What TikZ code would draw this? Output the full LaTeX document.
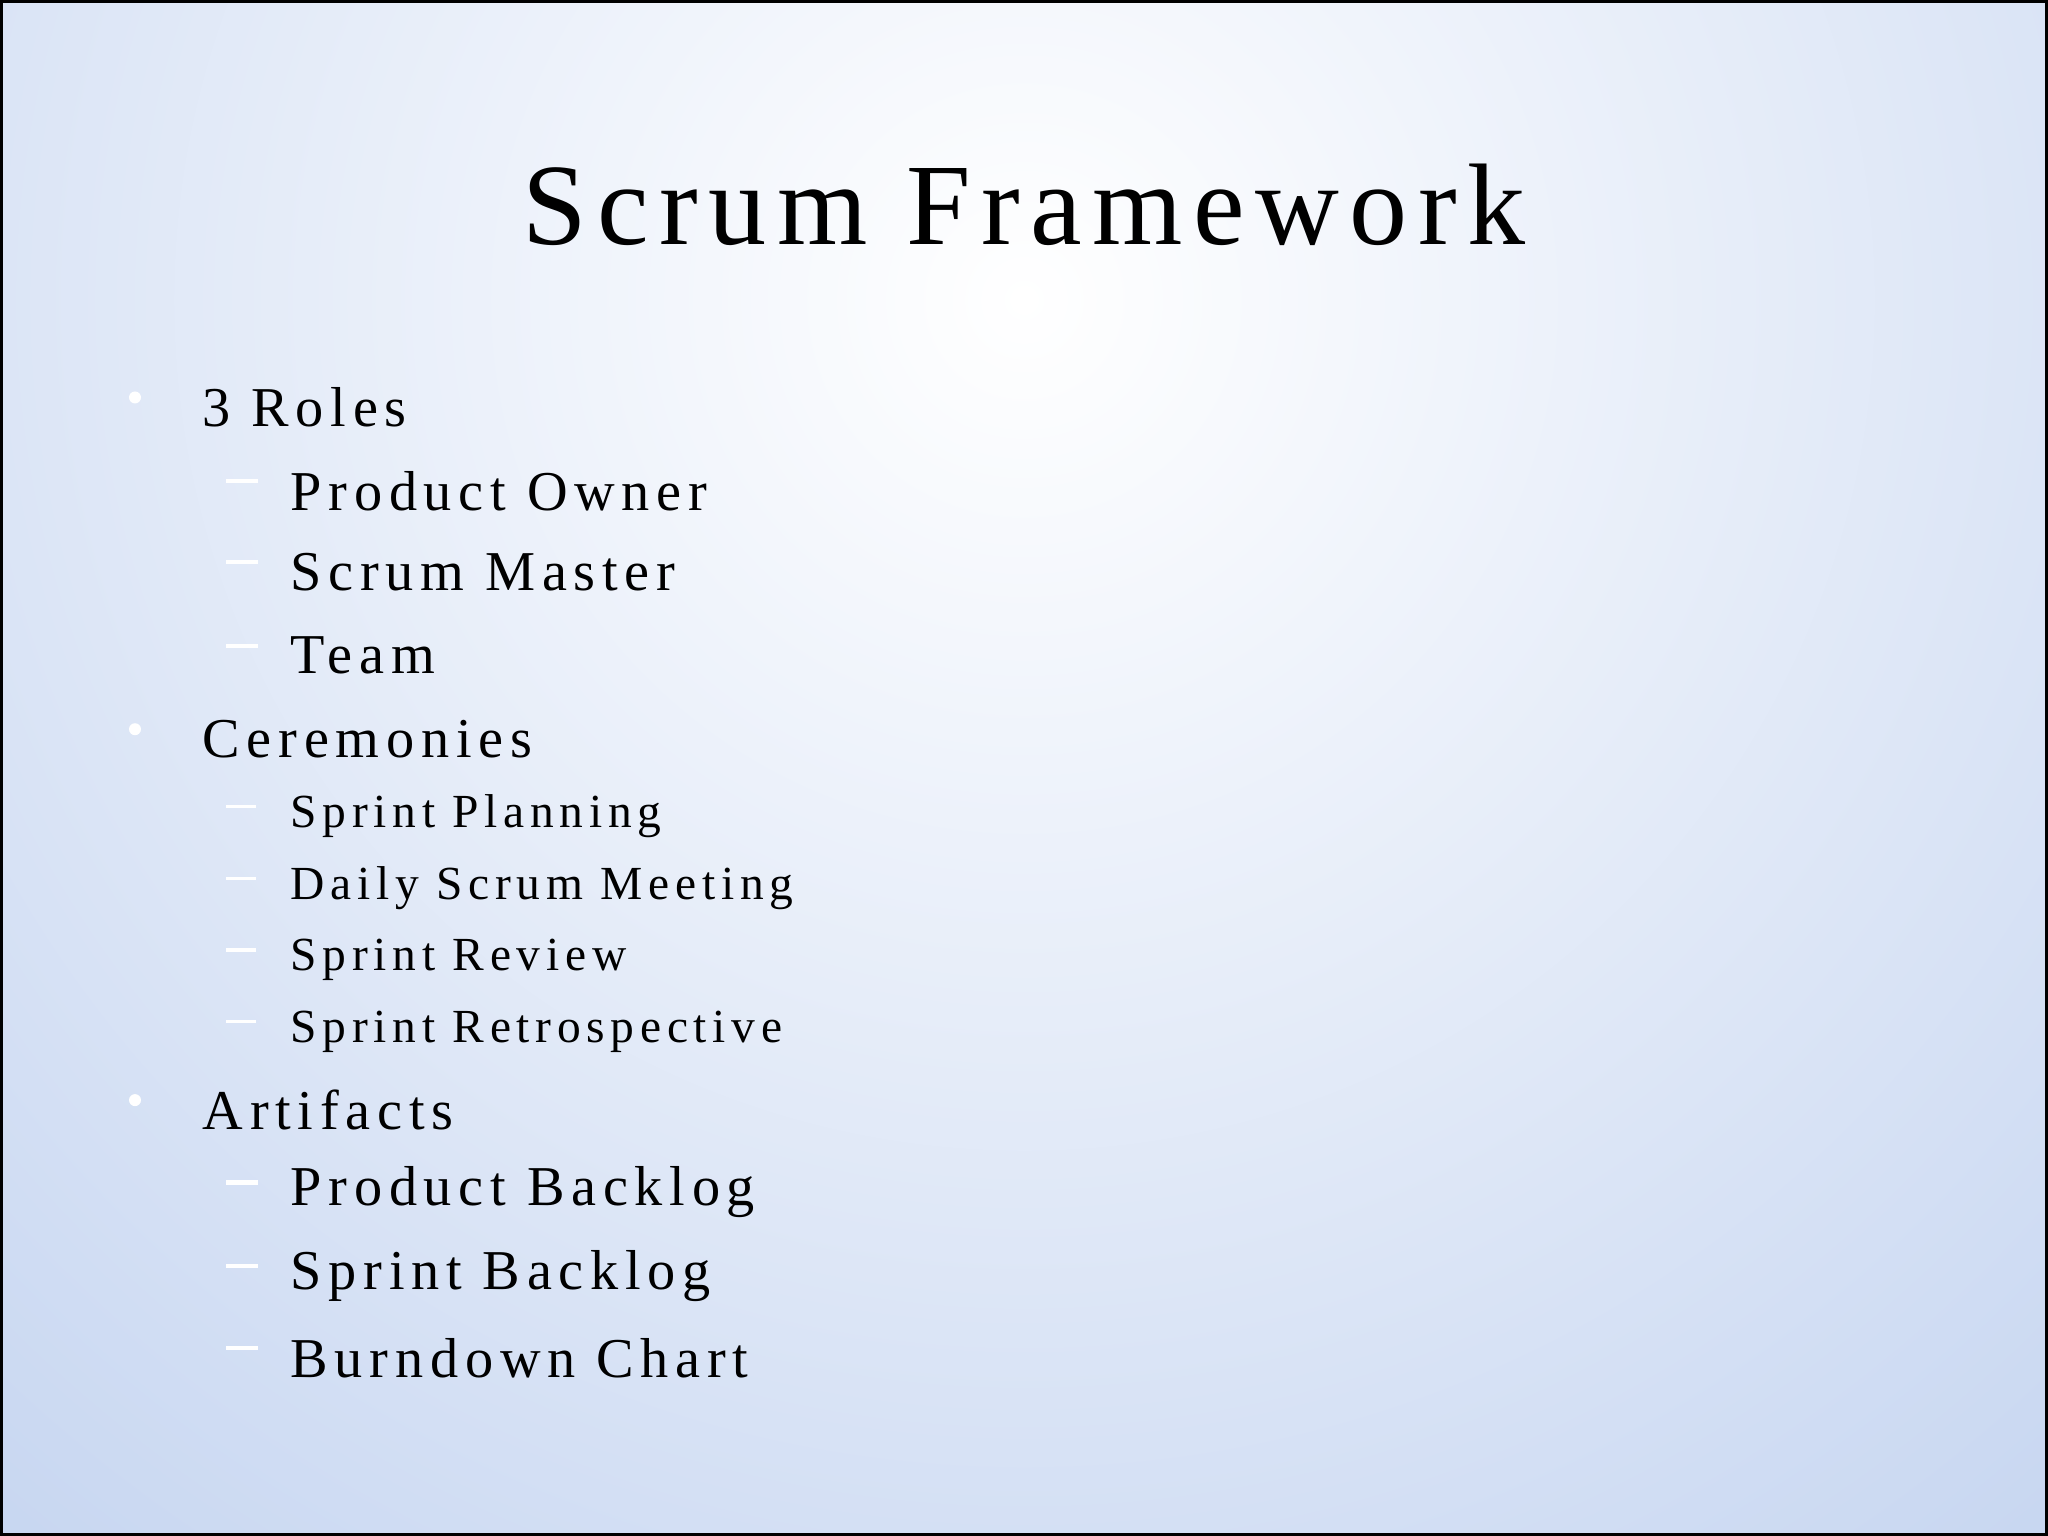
\documentclass[tikz,border=0pt]{standalone}
\usepackage{fontspec}
\setmainfont{Liberation Serif}
\newfontfamily\sfam[LetterSpace=12]{Liberation Serif}
\newfontfamily\tfam[LetterSpace=9]{Liberation Serif}
\definecolor{edgeblue}{RGB}{196,212,240}
\begin{document}
\begin{tikzpicture}[x=0.01cm,y=-0.01cm,
  lvA/.style={anchor=west,inner sep=0pt,font=\sfam\fontsize{16}{18}\selectfont},
  lvB/.style={anchor=west,inner sep=0pt,font=\sfam\fontsize{16}{18}\selectfont},
  lvC/.style={anchor=west,inner sep=0pt,font=\sfam\fontsize{13.5}{16}\selectfont},
  bul/.style={circle,fill=white,inner sep=0pt,minimum size=0.12cm},
  dsh/.style={draw=white,line width=1.2pt}]
\useasboundingbox (0,0) rectangle (2048,1536);
\begin{scope}
\clip (0,0) rectangle (2048,1536);
\fill[edgeblue] (0,0) rectangle (2048,1536);
\shade[inner color=white,outer color=edgeblue] (1024,300) circle (1700);
\end{scope}
\draw[black,line width=1.5pt] (0,0) rectangle (2048,1536);
\node[inner sep=0pt,font=\tfam\fontsize{33}{40}\selectfont] (title) at (1024,205) {Scrum Framework};
\foreach \y/\t/\n in {312/3 Roles/r,566/Ceremonies/c,850/Artifacts/a}{
  \node[bul] (b\n) at (135,\y*1.306-10) {};
  \node[lvA] (t\n) at (202,\y*1.306) {\t};
}
\foreach \y/\t/\n in {376/Product Owner/1,438/Scrum Master/2,502/Team/3,913/Product Backlog/4,977/Sprint Backlog/5,1040/Burndown Chart/6}{
  \coordinate (d\n a) at (226,\y*1.306-10); \coordinate (d\n b) at (258,\y*1.306-10);
  \draw[dsh] (d\n a) -- (d\n b);
  \node[lvB] (s\n) at (290,\y*1.306) {\t};
}
\foreach \y/\t/\n in {625/Sprint Planning/7,680/Daily Scrum Meeting/8,735/Sprint Review/9,790/Sprint Retrospective/10}{
  \coordinate (d\n a) at (226,\y*1.306-10); \coordinate (d\n b) at (256,\y*1.306-10);
  \draw[dsh,line width=0.9pt] (d\n a) -- (d\n b);
  \node[lvC] (s\n) at (290,\y*1.306) {\t};
}
\end{tikzpicture}
\end{document}
